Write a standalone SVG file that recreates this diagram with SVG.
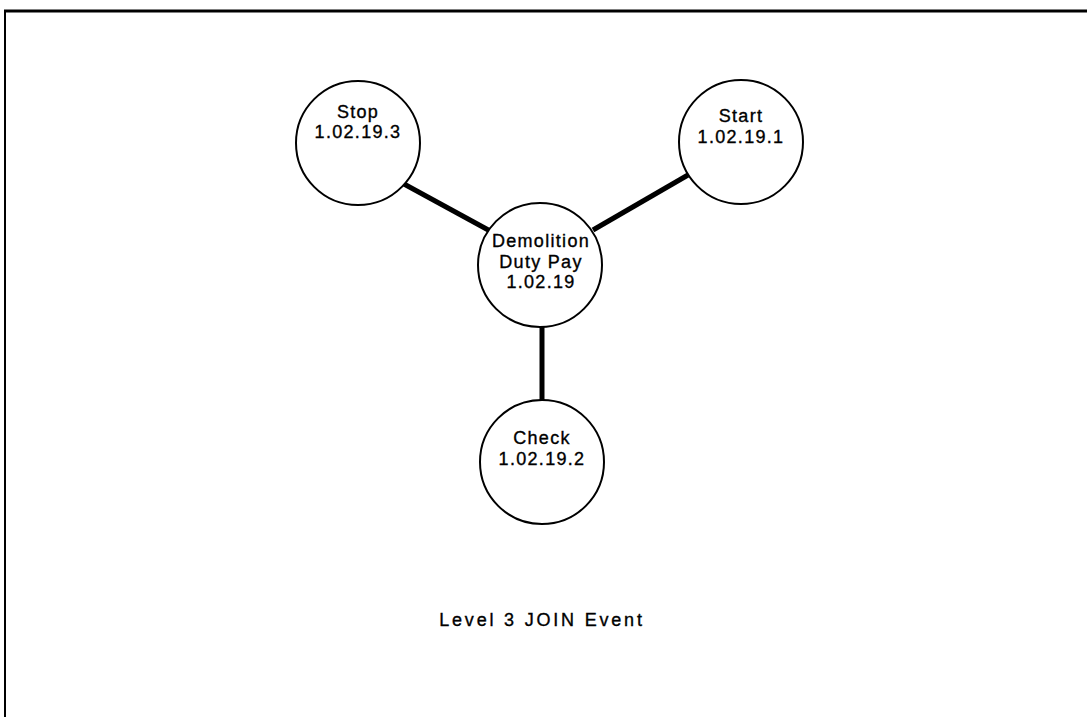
<svg xmlns="http://www.w3.org/2000/svg" width="1087" height="717" viewBox="0 0 1087 717">
<style>
.node{fill:#fff;stroke:#000;stroke-width:2}
.t{font-family:"Liberation Sans",Arial,sans-serif;font-size:18px;letter-spacing:1.3px;text-anchor:middle;fill:#000;stroke:#000;stroke-width:0.35}
.lbl{letter-spacing:2.8px}
.edge{stroke:#000;stroke-width:5;fill:none}
.frame{stroke:#000;fill:none}
</style>
<rect width="1087" height="717" fill="#fff"/>
<g id="frame">
<line class="frame" x1="4" y1="11" x2="1087" y2="11" stroke-width="3"/>
<line class="frame" x1="5" y1="10" x2="5" y2="717" stroke-width="2"/>
</g>
<g id="connectors">
<line class="edge" x1="404" y1="184" x2="492" y2="232"/>
<line class="edge" x1="688" y1="175" x2="593" y2="230"/>
<line class="edge" x1="542" y1="326" x2="542" y2="401"/>
</g>
<g id="node-stop">
<circle class="node" cx="358" cy="143" r="62"/>
<text class="t" x="358" y="118">Stop</text>
<text class="t" x="358" y="138">1.02.19.3</text>
</g>
<g id="node-start">
<circle class="node" cx="741" cy="142" r="62"/>
<text class="t" x="741" y="122">Start</text>
<text class="t" x="741" y="143">1.02.19.1</text>
</g>
<g id="node-demolition">
<circle class="node" cx="540" cy="265" r="62"/>
<text class="t" x="541" y="247">Demolition</text>
<text class="t" x="541" y="268">Duty Pay</text>
<text class="t" x="541" y="288">1.02.19</text>
</g>
<g id="node-check">
<circle class="node" cx="542" cy="462" r="62"/>
<text class="t" x="542" y="444">Check</text>
<text class="t" x="542" y="465">1.02.19.2</text>
</g>
<text class="t lbl" x="542" y="626">Level 3 JOIN Event</text>
</svg>
